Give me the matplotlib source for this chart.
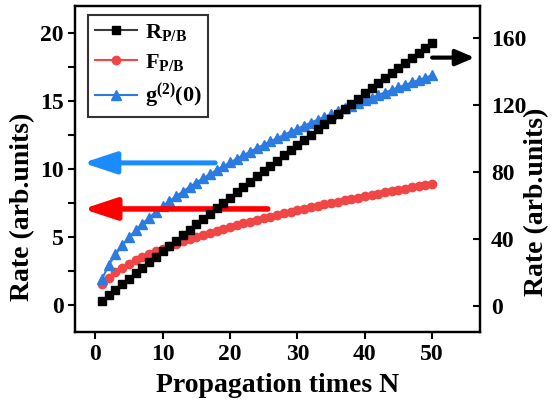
import matplotlib
matplotlib.use("Agg")
import matplotlib.pyplot as plt
from matplotlib.ticker import MultipleLocator, FixedLocator

plt.rcParams['font.family'] = ['Liberation Serif', 'DejaVu Serif']
plt.rcParams['font.weight'] = 'bold'
plt.rcParams['mathtext.fontset'] = 'custom'
plt.rcParams['mathtext.rm'] = 'Liberation Serif:bold'
plt.rcParams['mathtext.bf'] = 'Liberation Serif:bold'
plt.rcParams['mathtext.it'] = 'Liberation Serif:bold'

N = list(range(1, 51))

R_PB = [3.2, 6.5, 9.8, 13.1, 16.3, 19.6, 22.9, 26.1, 29.4, 32.6,
        35.9, 39.1, 42.3, 45.5, 48.8, 52.0, 55.2, 58.3, 61.5, 64.7,
        67.9, 71.0, 74.2, 77.4, 80.5, 83.6, 86.8, 89.9, 93.0, 96.1,
        99.2, 102.3, 105.4, 108.5, 111.6, 114.7, 117.7, 120.8, 123.8, 126.9,
        129.9, 133.0, 136.0, 139.0, 142.0, 145.0, 148.0, 151.0, 154.0, 157.0]

F_PB = [1.50, 2.00, 2.39, 2.72, 3.01, 3.27, 3.51, 3.73, 3.94, 4.13,
        4.32, 4.50, 4.68, 4.84, 5.00, 5.16, 5.31, 5.45, 5.59, 5.73,
        5.87, 6.00, 6.13, 6.25, 6.38, 6.50, 6.61, 6.73, 6.84, 6.96,
        7.07, 7.18, 7.28, 7.39, 7.49, 7.59, 7.70, 7.79, 7.89, 7.99,
        8.09, 8.18, 8.27, 8.37, 8.46, 8.55, 8.64, 8.73, 8.81, 8.90]

G2 = [1.90, 2.92, 3.71, 4.37, 4.96, 5.48, 5.97, 6.42, 6.84, 7.24,
      7.63, 7.99, 8.34, 8.68, 9.00, 9.31, 9.62, 9.91, 10.20, 10.48,
      10.75, 11.02, 11.28, 11.54, 11.79, 12.03, 12.27, 12.51, 12.74, 12.96,
      13.19, 13.41, 13.63, 13.84, 14.05, 14.26, 14.46, 14.66, 14.86, 15.06,
      15.25, 15.45, 15.63, 15.82, 16.01, 16.19, 16.37, 16.55, 16.73, 16.90]

left_ticks = [0, 5, 10, 15, 20]
right_ticks = [0, 40, 80, 120, 160]
x_ticks = [0, 10, 20, 30, 40, 50]

fig = plt.figure(figsize=(5.53, 4.01), dpi=100)
ax = fig.add_axes([75/553, 69/401, 405/553, 326/401])
ax2 = ax.twinx()

c_black = '#000000'
c_red = '#f04646'
c_blue = '#2b7be0'

l2, = ax.plot(N, F_PB, color=c_red, marker='o', ms=6, lw=1.5, label=r'$\mathregular{F_{P/B}}$', zorder=3)
l3, = ax.plot(N, G2, color=c_blue, marker='^', ms=6.5, lw=1.5, label=r'$\mathregular{g^{(2)}(0)}$', zorder=3)
l1, = ax2.plot(N, R_PB, color='#3a3a3a', marker='s', ms=6, mfc=c_black, mec=c_black, lw=1.5,
               label=r'$\mathregular{R_{P/B}}$', zorder=3)

ax.set_xlim(-3, 57.1)
ax.set_ylim(-2, 22)
ax2.set_ylim(-15.5, 179.1)

ax.xaxis.set_major_locator(FixedLocator(x_ticks))
ax.yaxis.set_major_locator(FixedLocator(left_ticks))
ax.yaxis.set_minor_locator(MultipleLocator(2.5))
ax2.yaxis.set_major_locator(FixedLocator(right_ticks))

for a in (ax, ax2):
    for s in a.spines.values():
        s.set_linewidth(1.6)

ax.tick_params(axis='both', which='both', direction='out', width=1.5, length=5, labelsize=17)
ax.tick_params(axis='y', which='minor', length=5, width=1.5)
ax.tick_params(axis='x', pad=4)
ax.tick_params(axis='y', pad=3)
ax2.tick_params(axis='y', direction='in', width=1.5, length=5, labelsize=17, pad=8)

ax.set_xlabel('Propagation times N', fontsize=20, fontweight='bold')
ax.set_ylabel('Rate (arb.units)', fontsize=20, fontweight='bold')
ax2.set_ylabel('Rate (arb.units)', fontsize=20, fontweight='bold')

# label placement (axes-fraction coordinates)
ax.xaxis.set_label_coords(0.5, -0.125)
ax.yaxis.set_label_coords(-0.098, 0.385)
ax2.yaxis.set_label_coords(1.11, 0.40)

for lab in ax.get_xticklabels() + ax.get_yticklabels() + ax2.get_yticklabels():
    lab.set_fontweight('bold')

leg = ax.legend(handles=[l1, l2, l3], loc='upper left', bbox_to_anchor=(0.032, 0.972),
                fontsize=16, frameon=True, fancybox=False, edgecolor='black',
                handlelength=1.9, handletextpad=0.35, borderpad=0.3, labelspacing=0.4,
                borderaxespad=0)
leg.get_frame().set_linewidth(1.5)
leg.set_zorder(5)

# arrows
ax.annotate('', xy=(-1.8, 10.45), xytext=(17.8, 10.45),
            arrowprops=dict(arrowstyle='-|>,head_length=1.0,head_width=0.33', lw=3.6,
                            color='#1a8cff', mutation_scale=20, shrinkA=0, shrinkB=0), zorder=4)
ax.annotate('', xy=(-1.8, 7.06), xytext=(25.6, 7.06),
            arrowprops=dict(arrowstyle='-|>,head_length=1.0,head_width=0.33', lw=4,
                            color='#ff0000', mutation_scale=20, shrinkA=0, shrinkB=0), zorder=4)
ax.annotate('', xy=(56.3, 18.2), xytext=(50.0, 18.2),
            arrowprops=dict(arrowstyle='-|>,head_length=0.7,head_width=0.3', lw=3,
                            color='black', mutation_scale=16, shrinkA=0, shrinkB=0), zorder=4)

fig.savefig('out.png', dpi=100)
